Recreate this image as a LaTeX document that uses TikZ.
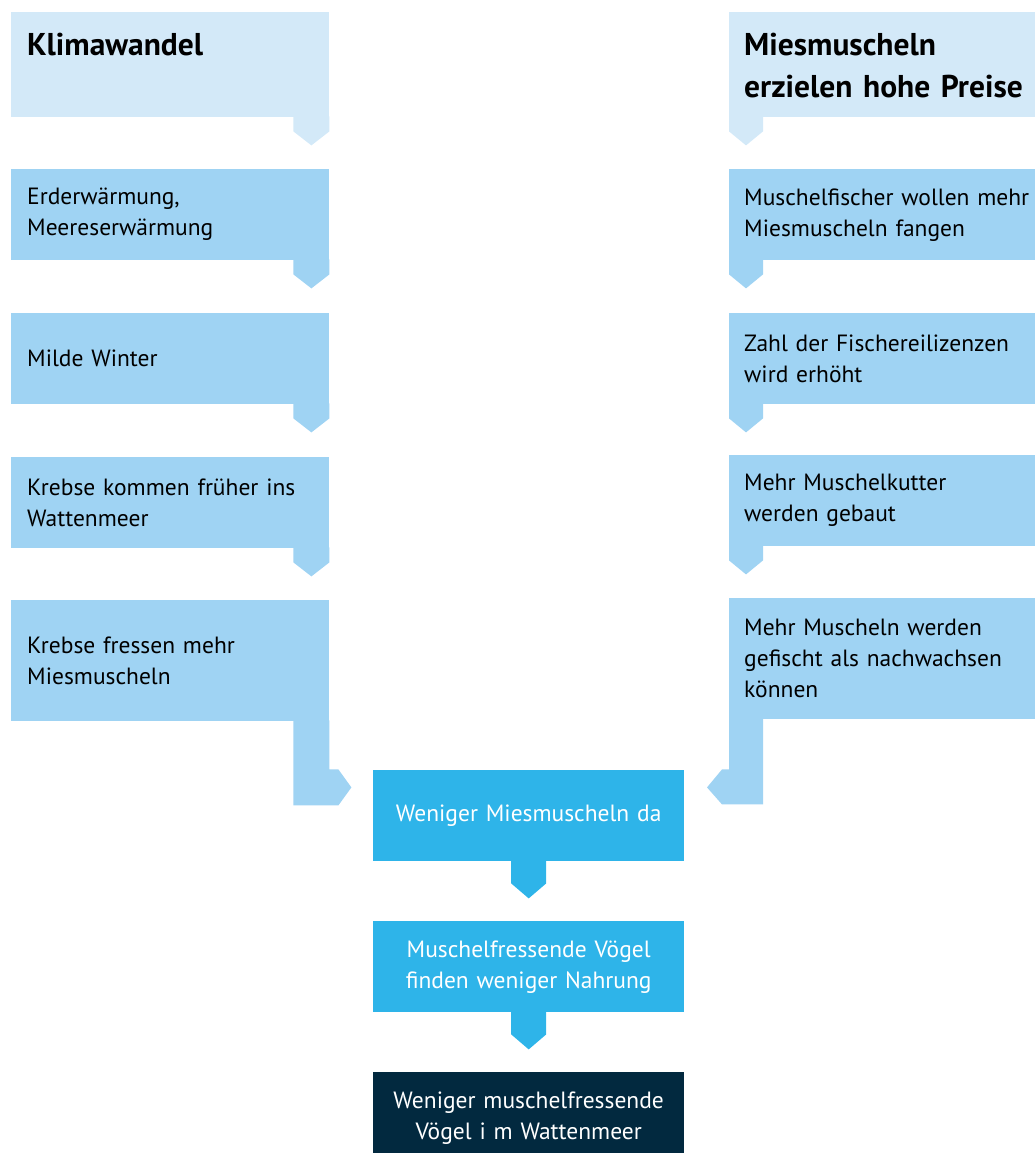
\documentclass[tikz,border=0pt]{standalone}
\usepackage{fontspec}
\setmainfont{PT Sans}
\usetikzlibrary{calc}
\usetikzlibrary{positioning}

\definecolor{headblue}{HTML}{D3E9F8}
\definecolor{boxblue}{HTML}{9FD3F3}
\definecolor{midblue}{HTML}{2EB4E9}
\definecolor{darkblue}{HTML}{02293F}

\tikzset{
  head/.style={anchor=north west, fill=headblue, text width=286pt, align=left, inner xsep=16pt, inner ysep=10pt, text height=33pt, text depth=52pt, font=\fontsize{31.5}{42}\selectfont\bfseries},
  rhead/.style={head, text width=300pt, inner xsep=15pt},
  box/.style={anchor=north west, fill=boxblue, text width=286pt, align=left, inner xsep=16pt, inner ysep=0pt, minimum height=91pt, font=\fontsize{23.5}{31}\selectfont},
  rbox/.style={box, text width=300pt, inner xsep=15pt},
  mid/.style={anchor=north west, fill=midblue, text=white, text width=281pt, align=center, inner xsep=15pt, inner ysep=0pt, minimum height=91pt, font=\fontsize{23.5}{31}\selectfont}
}

\begin{document}
\begin{tikzpicture}[x=1pt,y=-1pt]
\useasboundingbox (0,0) rectangle (1035,1153);
% left column
\node[head] (klima) at (11,12) {Klimawandel};
\node[box] (erde) at (11,169) {Erderwärmung,\\Meereserwärmung};
\node[box] (winter) at (11,313) {Milde Winter};
\node[box] (krebse1) at (11,457) {Krebse kommen früher ins\\Wattenmeer};
\node[box, minimum height=121pt] (krebse2) at (11,600) {Krebse fressen mehr\\Miesmuscheln};
% right column
\node[rhead] (preise) at (729,12) {Miesmuscheln\\erzielen hohe Preise};
\node[rbox] (fischer) at (729,169) {Muschelfischer wollen mehr\\Miesmuscheln fangen};
\node[rbox] (lizenz) at (729,313) {Zahl der Fischereilizenzen\\wird erhöht};
\node[rbox] (kutter) at (729,455) {Mehr Muschelkutter\\werden gebaut};
\node[rbox, minimum height=121pt] (gefischt) at (729,598) {Mehr Muscheln werden\\gefischt als nachwachsen\\können};
% middle
\node[mid] (weniger) at (373,770) {Weniger Miesmuscheln da};
\node[mid] (voegel) at (373,921) {Muschelfressende Vögel\\finden weniger Nahrung};
\node[mid, fill=darkblue] (ende) at (373,1072) {Weniger muschelfressende\\Vögel i m Wattenmeer};
% tabs left
\fill[headblue] ($(klima.south east)+(-36,-1)$) -- ++(0,15) -- ++(18,14) -- ++(18,-14) -- ++(0,-15) -- cycle;
\fill[boxblue] ($(erde.south east)+(-36,-1)$) -- ++(0,15) -- ++(18,14) -- ++(18,-14) -- ++(0,-15) -- cycle;
\fill[boxblue] ($(winter.south east)+(-36,-1)$) -- ++(0,15) -- ++(18,14) -- ++(18,-14) -- ++(0,-15) -- cycle;
\fill[boxblue] ($(krebse1.south east)+(-36,-1)$) -- ++(0,15) -- ++(18,14) -- ++(18,-14) -- ++(0,-15) -- cycle;
\fill[boxblue] ($(krebse2.south east)+(-36,-1)$) -- ++(36,0) -- ++(0,49) -- ++(9,0) -- ++(13,18) -- ++(-13,18) -- ++(-45,0) -- cycle;
% tabs right
\fill[headblue] ($(preise.south west)+(0,-1)$) -- ++(0,15) -- ++(17,14) -- ++(17,-14) -- ++(0,-15) -- cycle;
\fill[boxblue] ($(fischer.south west)+(0,-1)$) -- ++(0,15) -- ++(17,14) -- ++(17,-14) -- ++(0,-15) -- cycle;
\fill[boxblue] ($(lizenz.south west)+(0,-1)$) -- ++(0,15) -- ++(17,14) -- ++(17,-14) -- ++(0,-15) -- cycle;
\fill[boxblue] ($(kutter.south west)+(0,-1)$) -- ++(0,15) -- ++(17,14) -- ++(17,-14) -- ++(0,-15) -- cycle;
\fill[boxblue] ($(gefischt.south west)+(0,-1)$) -- ++(34,0) -- ++(0,86) -- ++(-41,0) -- ++(-15,-17) -- ++(15,-18) -- ++(7,0) -- cycle;
% tabs middle
\fill[midblue] ($(weniger.south)+(-17.5,-1)$) -- ++(0,23) -- ++(17.5,15) -- ++(17.5,-15) -- ++(0,-23) -- cycle;
\fill[midblue] ($(voegel.south)+(-17.5,-1)$) -- ++(0,23) -- ++(17.5,15) -- ++(17.5,-15) -- ++(0,-23) -- cycle;
\end{tikzpicture}
\end{document}
